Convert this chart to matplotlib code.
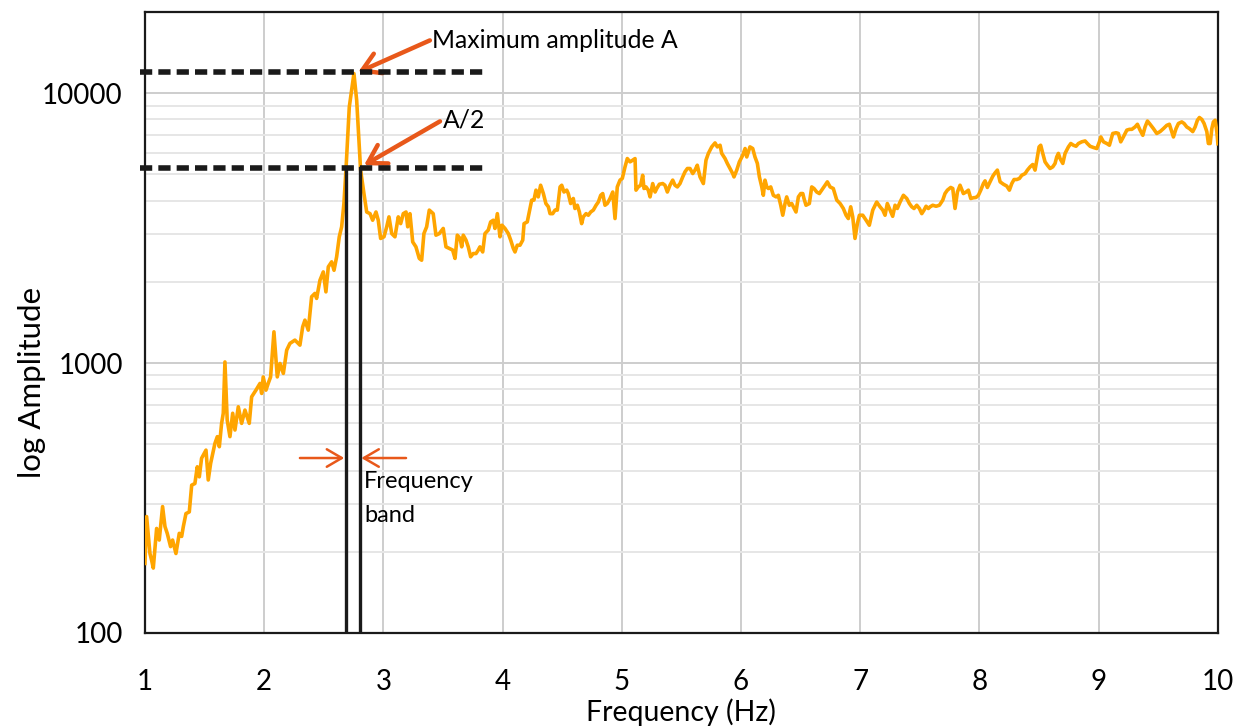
import numpy as np
import matplotlib.pyplot as plt
from matplotlib.ticker import LogLocator, NullFormatter

# spectrum (Hz, amplitude)
freq = [1.000, 1.014, 1.042, 1.056, 1.070, 1.098, 1.120, 1.148, 1.168, 1.187, 1.215, 1.232,
        1.260, 1.288, 1.308, 1.322, 1.344, 1.372, 1.392, 1.419, 1.439, 1.456, 1.475, 1.512,
        1.531, 1.551, 1.587, 1.607, 1.624, 1.643, 1.657, 1.671, 1.690, 1.713, 1.736, 1.755,
        1.783, 1.811, 1.839, 1.875, 1.895, 1.931, 1.965, 1.979, 1.992, 2.015, 2.034, 2.054,
        2.082, 2.110, 2.133, 2.161, 2.189, 2.216, 2.258, 2.300, 2.323, 2.342, 2.370, 2.398,
        2.426, 2.440, 2.468, 2.496, 2.518, 2.538, 2.566, 2.586, 2.608, 2.630, 2.650, 2.669,
        2.686, 2.714, 2.753, 2.776, 2.809, 2.837, 2.860, 2.888, 2.910, 2.938, 2.957, 2.977,
        3.005, 3.028, 3.047, 3.070, 3.097, 3.125, 3.145, 3.167, 3.190, 3.204, 3.223, 3.246,
        3.273, 3.301, 3.321, 3.340, 3.363, 3.385, 3.418, 3.441, 3.469, 3.502, 3.525, 3.553,
        3.581, 3.601, 3.620, 3.643, 3.657, 3.670, 3.693, 3.712, 3.732, 3.754, 3.777, 3.796,
        3.810, 3.833, 3.852, 3.880, 3.900, 3.922, 3.936, 3.956, 3.978, 3.995, 4.020, 4.048,
        4.068, 4.090, 4.104, 4.123, 4.146, 4.169, 4.180, 4.207, 4.230, 4.244, 4.263, 4.280,
        4.299, 4.319, 4.342, 4.363, 4.384, 4.398, 4.420, 4.440, 4.459, 4.482, 4.496, 4.515,
        4.538, 4.551, 4.571, 4.593, 4.607, 4.627, 4.644, 4.663, 4.677, 4.700, 4.719, 4.739,
        4.761, 4.784, 4.803, 4.823, 4.840, 4.859, 4.878, 4.901, 4.924, 4.943, 4.962, 4.985,
        5.004, 5.027, 5.046, 5.069, 5.091, 5.111, 5.119, 5.138, 5.158, 5.175, 5.186, 5.203,
        5.222, 5.237, 5.259, 5.279, 5.293, 5.315, 5.343, 5.362, 5.382, 5.404, 5.427, 5.446,
        5.466, 5.488, 5.511, 5.530, 5.550, 5.572, 5.595, 5.614, 5.633, 5.656, 5.670, 5.684,
        5.706, 5.726, 5.754, 5.782, 5.801, 5.824, 5.838, 5.866, 5.885, 5.908, 5.930, 5.941,
        5.964, 5.986, 6.014, 6.034, 6.048, 6.075, 6.098, 6.117, 6.137, 6.154, 6.174, 6.187,
        6.201, 6.216, 6.229, 6.249, 6.271, 6.294, 6.313, 6.333, 6.350, 6.369, 6.383, 6.405,
        6.425, 6.439, 6.461, 6.481, 6.501, 6.518, 6.528, 6.545, 6.573, 6.593, 6.612, 6.635,
        6.657, 6.677, 6.705, 6.724, 6.747, 6.774, 6.803, 6.831, 6.858, 6.881, 6.900, 6.920,
        6.937, 6.956, 6.976, 6.993, 7.021, 7.049, 7.076, 7.105, 7.138, 7.166, 7.189, 7.208,
        7.227, 7.250, 7.272, 7.292, 7.311, 7.334, 7.362, 7.390, 7.412, 7.432, 7.451, 7.474,
        7.496, 7.516, 7.535, 7.552, 7.571, 7.586, 7.608, 7.636, 7.664, 7.692, 7.711, 7.731,
        7.759, 7.776, 7.795, 7.815, 7.837, 7.865, 7.888, 7.907, 7.927, 7.949, 7.971, 7.991,
        8.011, 8.033, 8.047, 8.066, 8.089, 8.112, 8.131, 8.150, 8.173, 8.201, 8.229, 8.251,
        8.271, 8.290, 8.313, 8.335, 8.355, 8.383, 8.402, 8.425, 8.447, 8.466, 8.481, 8.500,
        8.514, 8.531, 8.550, 8.570, 8.592, 8.615, 8.634, 8.648, 8.662, 8.676, 8.699, 8.718,
        8.746, 8.766, 8.788, 8.810, 8.830, 8.858, 8.886, 8.905, 8.928, 8.956, 8.984, 9.006,
        9.018, 9.040, 9.068, 9.090, 9.118, 9.146, 9.165, 9.185, 9.207, 9.236, 9.258, 9.278,
        9.305, 9.325, 9.347, 9.370, 9.389, 9.409, 9.431, 9.459, 9.487, 9.515, 9.543, 9.571,
        9.593, 9.613, 9.627, 9.649, 9.669, 9.697, 9.716, 9.739, 9.761, 9.789, 9.809, 9.828,
        9.845, 9.865, 9.884, 9.907, 9.920, 9.935, 9.949, 9.962, 9.977, 9.991, 10.000]
amp = [181, 270, 197, 186, 174, 244, 221, 294, 248, 234, 209, 221,
       197, 234, 228, 248, 277, 281, 353, 358, 413, 379, 444, 476,
       369, 425, 504, 534, 490, 598, 652, 1010, 615, 534, 652, 565,
       689, 598, 670, 598, 750, 794, 841, 772, 889, 794, 841, 889,
       1306, 889, 997, 916, 1117, 1183, 1217, 1166, 1362, 1443, 1325, 1762,
       1813, 1737, 2028, 2178, 1837, 2274, 2373, 2208, 2478, 2938, 3200, 3903,
       5190, 8890, 11830, 9420, 5190, 4250, 3631, 3580, 3385, 3631, 3385, 2897,
       2938, 3200, 3483, 3020, 2938, 3483, 3288, 3580, 3631, 3200, 3580, 2813,
       2697, 2443, 2406, 3020, 3200, 3690, 3580, 2979, 3020, 3155, 2697, 2660,
       2624, 2443, 2979, 2897, 2697, 2979, 2856, 2697, 2478, 2547, 2547, 2624,
       2697, 2582, 3020, 3113, 3337, 3385, 3155, 3580, 2938, 3243, 3155, 3020,
       2856, 2660, 2582, 2735, 2735, 2856, 3288, 3337, 3741, 4018, 4018, 4375,
       4130, 4562, 4250, 3903, 3795, 3580, 3580, 3690, 3690, 4497, 4562, 4306,
       4375, 4250, 3903, 4074, 3741, 3846, 3631, 3288, 3483, 3580, 3532, 3631,
       3690, 3846, 3953, 4187, 4250, 3846, 3903, 4074, 4306, 3434, 4497, 4765,
       4833, 5338, 5728, 5569, 5648, 5728, 4375, 4497, 4562, 4967, 4436, 4497,
       4375, 4130, 4628, 4306, 4436, 4601, 4628, 4562, 4306, 4562, 4765, 4562,
       4497, 4628, 4898, 5115, 5262, 5262, 5040, 5190, 5411, 4898, 4765, 4628,
       5648, 5986, 6328, 6546, 6328, 6418, 5986, 5728, 5495, 5262, 5040, 4898,
       5190, 5569, 5888, 6240, 5807, 6328, 6240, 5807, 5495, 4898, 4497, 4187,
       4765, 4497, 4436, 4497, 4187, 4130, 4187, 3846, 3532, 3903, 4130, 3846,
       3903, 3795, 3631, 4130, 4250, 4250, 4074, 3846, 3903, 4497, 4436, 4306,
       4250, 4375, 4562, 4696, 4497, 4436, 4018, 3903, 3741, 3532, 3434, 3795,
       3483, 2897, 3288, 3532, 3532, 3385, 3243, 3690, 3953, 3795, 3690, 3532,
       3903, 3690, 3500, 3846, 3741, 3953, 4187, 4074, 3903, 3795, 3741, 3846,
       3741, 3580, 3690, 3813, 3741, 3795, 3846, 3813, 3846, 4018, 4250, 4375,
       4477, 4436, 3741, 4306, 4562, 4250, 4306, 4375, 4074, 4100, 4110, 4187,
       4375, 4628, 4735, 4477, 4696, 4930, 5071, 5190, 4696, 4601, 4530, 4375,
       4628, 4790, 4790, 4833, 4967, 5040, 5190, 5338, 5445, 5190, 5648, 6328,
       6418, 5986, 5569, 5411, 5262, 5338, 5495, 5807, 5986, 5728, 5495, 5986,
       6328, 6513, 6418, 6362, 6513, 6607, 6656, 6513, 6362, 6295, 6240, 6607,
       6887, 6607, 6513, 6418, 7096, 7140, 7096, 6607, 6887, 7300, 7350, 7350,
       7500, 7675, 7300, 6985, 7500, 7890, 7675, 7396, 7096, 7210, 7396, 7604,
       7675, 7210, 6887, 7396, 7727, 7830, 7727, 7500, 7396, 7210, 7500, 7943,
       8130, 8000, 7727, 7210, 6513, 6513, 7396, 7830, 7943, 7210, 6500]

# annotation levels
max_amp = 11950
half_amp = 5300
band_lo, band_hi = 2.686, 2.80
dash_x = [0.958, 3.87]

xticks = [1, 2, 3, 4, 5, 6, 7, 8, 9, 10]
yticks = [100, 1000, 10000]

plt.rcParams['font.family'] = ['Lato', 'DejaVu Sans']
red = '#E8581A'

fig = plt.figure(figsize=(12.42, 7.28), dpi=100)
ax = fig.add_axes([0.1167, 0.1305, 0.8639, 0.853])

ax.set_yscale('log')
ax.set_xlim(1, 10)
ax.set_ylim(100, 20000)

ax.set_axisbelow(True)
ax.yaxis.set_minor_locator(LogLocator(base=10, subs=range(2, 10)))
ax.yaxis.set_minor_formatter(NullFormatter())
ax.grid(which='major', color='#cdcdcd', lw=1.4)
ax.grid(which='minor', axis='y', color='#e6e6e6', lw=1.4)

ax.plot(freq, amp, color='#FFA500', lw=2.6, zorder=3)

# dashed reference lines and band edges
for lvl in [max_amp, half_amp]:
    ax.plot(dash_x, [lvl, lvl], color='#1a1a1a', lw=4, dashes=(2.2, 1.1),
            clip_on=False, zorder=4)
for fx in [band_lo, band_hi]:
    ax.plot([fx, fx], [100, half_amp], color='#1a1a1a', lw=2.4, zorder=4)

# annotations
big_head = '->,head_length=0.75,head_width=0.45'
ax.annotate('', xy=(2.787, max_amp), xytext=(3.39, 15700),
            arrowprops=dict(arrowstyle=big_head, color=red, lw=3.2,
                            mutation_scale=17, shrinkA=0, shrinkB=0))
ax.text(3.405, 15700, 'Maximum amplitude A', fontsize=17.8, va='center', ha='left')
ax.annotate('', xy=(2.837, 5410), xytext=(3.475, 7870),
            arrowprops=dict(arrowstyle=big_head, color=red, lw=3.2,
                            mutation_scale=17, shrinkA=0, shrinkB=0))
ax.text(3.50, 7950, 'A/2', fontsize=17.8, va='center', ha='left')

small_head = '->,head_length=0.6,head_width=0.35'
ax.annotate('', xy=(2.672, 445), xytext=(2.30, 445),
            arrowprops=dict(arrowstyle=small_head, color=red, lw=1.8,
                            mutation_scale=18, shrinkA=0, shrinkB=0))
ax.annotate('', xy=(2.815, 445), xytext=(3.19, 445),
            arrowprops=dict(arrowstyle=small_head, color=red, lw=1.8,
                            mutation_scale=18, shrinkA=0, shrinkB=0))
ax.text(2.84, 398, 'Frequency\nband', fontsize=17, va='top', ha='left', linespacing=1.75)

ax.set_xticks(xticks)
ax.set_xticklabels([str(v) for v in xticks])
ax.set_yticks(yticks)
ax.set_yticklabels([str(v) for v in yticks])
ax.tick_params(axis='both', which='both', length=0, labelsize=20)
ax.tick_params(axis='x', pad=26)
ax.tick_params(axis='y', pad=16)

for s in ax.spines.values():
    s.set_color('#1a1a1a')
    s.set_linewidth(1.6)

ax.set_xlabel('Frequency (Hz)', fontsize=20.5)
ax.xaxis.set_label_coords(0.5, -0.106)
ax.set_ylabel('log Amplitude', fontsize=22.5)
ax.yaxis.set_label_coords(-0.092, 0.404)

fig.savefig('out.png', dpi=100)
